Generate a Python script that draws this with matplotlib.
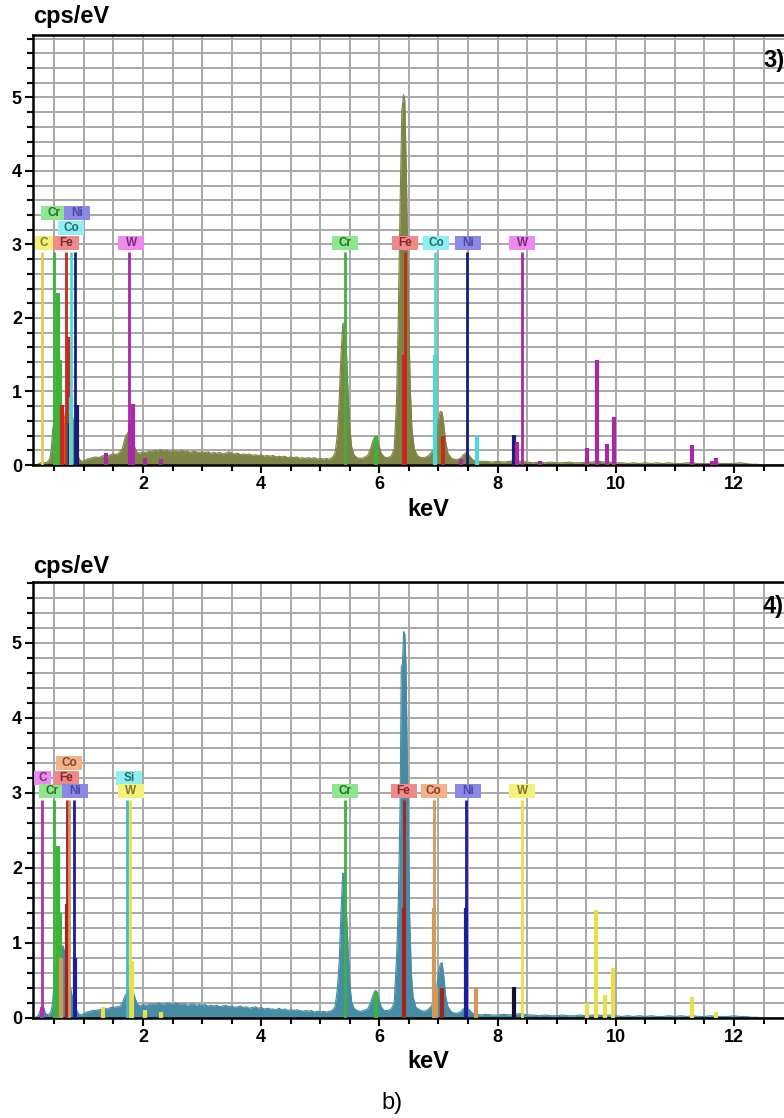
import numpy as np
import matplotlib.pyplot as plt
from matplotlib.patches import Rectangle
from matplotlib.ticker import MultipleLocator, FuncFormatter

plt.rcParams['font.family'] = ['Liberation Sans', 'DejaVu Sans']

# EDS spectrum of sample 3: (keV, cps/eV)
spec3 = [
    (0.14, 0.00), (0.22, 0.01), (0.27, 0.03), (0.30, 0.05), (0.33, 0.03), (0.38, 0.04),
    (0.42, 0.08), (0.45, 0.22), (0.47, 0.47), (0.50, 0.62), (0.53, 0.85), (0.56, 0.95),
    (0.59, 0.80), (0.62, 0.62), (0.65, 0.55), (0.68, 0.68), (0.71, 0.80), (0.74, 0.72),
    (0.77, 0.78), (0.80, 0.70), (0.83, 0.55), (0.86, 0.40), (0.89, 0.18), (0.92, 0.08),
    (0.96, 0.05), (1.00, 0.06), (1.05, 0.08), (1.10, 0.09), (1.15, 0.10), (1.20, 0.11),
    (1.25, 0.10), (1.30, 0.12), (1.35, 0.13), (1.40, 0.12), (1.45, 0.14), (1.50, 0.15),
    (1.55, 0.14), (1.60, 0.17), (1.65, 0.22), (1.70, 0.38), (1.74, 0.44), (1.78, 0.43),
    (1.82, 0.36), (1.86, 0.24), (1.90, 0.17), (1.95, 0.16), (2.00, 0.18), (2.05, 0.17),
    (2.10, 0.19), (2.15, 0.18), (2.20, 0.20), (2.25, 0.19), (2.30, 0.21), (2.35, 0.19),
    (2.40, 0.20), (2.45, 0.18), (2.50, 0.20), (2.55, 0.19), (2.60, 0.18), (2.65, 0.20),
    (2.70, 0.18), (2.75, 0.19), (2.80, 0.17), (2.85, 0.19), (2.90, 0.18), (2.95, 0.17),
    (3.00, 0.18), (3.05, 0.17), (3.10, 0.18), (3.15, 0.16), (3.20, 0.17), (3.25, 0.16),
    (3.30, 0.17), (3.35, 0.15), (3.40, 0.16), (3.45, 0.18), (3.50, 0.16), (3.55, 0.15),
    (3.60, 0.16), (3.65, 0.14), (3.70, 0.15), (3.75, 0.14), (3.80, 0.15), (3.85, 0.13),
    (3.90, 0.14), (3.95, 0.13), (4.00, 0.14), (4.05, 0.12), (4.10, 0.13), (4.15, 0.12),
    (4.20, 0.13), (4.25, 0.11), (4.30, 0.12), (4.35, 0.11), (4.40, 0.12), (4.45, 0.10),
    (4.50, 0.11), (4.55, 0.10), (4.60, 0.11), (4.65, 0.09), (4.70, 0.10), (4.75, 0.09),
    (4.80, 0.10), (4.85, 0.09), (4.90, 0.10), (4.95, 0.08), (5.00, 0.09), (5.05, 0.08),
    (5.10, 0.09), (5.15, 0.08), (5.20, 0.10), (5.25, 0.16), (5.29, 0.42), (5.32, 0.90),
    (5.35, 1.50), (5.38, 1.92), (5.41, 1.94), (5.44, 1.58), (5.47, 0.98), (5.50, 0.50),
    (5.53, 0.25), (5.57, 0.14), (5.62, 0.10), (5.68, 0.09), (5.74, 0.10), (5.80, 0.13),
    (5.85, 0.22), (5.89, 0.33), (5.93, 0.39), (5.96, 0.37), (5.99, 0.28), (6.03, 0.16),
    (6.08, 0.11), (6.14, 0.10), (6.20, 0.12), (6.25, 0.22), (6.29, 0.88), (6.32, 2.04),
    (6.35, 3.54), (6.38, 4.83), (6.41, 5.04), (6.43, 4.95), (6.46, 3.79), (6.49, 2.27),
    (6.52, 1.10), (6.55, 0.50), (6.59, 0.22), (6.64, 0.13), (6.70, 0.10), (6.76, 0.10),
    (6.82, 0.12), (6.87, 0.16), (6.92, 0.22), (6.96, 0.38), (7.00, 0.62), (7.03, 0.73),
    (7.06, 0.72), (7.09, 0.55), (7.12, 0.32), (7.16, 0.16), (7.22, 0.09), (7.30, 0.07),
    (7.37, 0.09), (7.42, 0.14), (7.47, 0.17), (7.52, 0.13), (7.58, 0.07), (7.65, 0.05),
    (7.72, 0.05), (7.80, 0.05), (7.90, 0.04), (8.00, 0.05), (8.10, 0.04), (8.20, 0.05),
    (8.30, 0.06), (8.40, 0.05), (8.50, 0.04), (8.60, 0.03), (8.70, 0.04), (8.80, 0.03),
    (8.90, 0.04), (9.00, 0.03), (9.10, 0.03), (9.20, 0.04), (9.30, 0.03), (9.40, 0.03),
    (9.50, 0.04), (9.60, 0.04), (9.70, 0.05), (9.80, 0.04), (9.90, 0.04), (10.0, 0.03),
    (10.1, 0.03), (10.2, 0.02), (10.3, 0.03), (10.4, 0.02), (10.5, 0.03), (10.6, 0.02),
    (10.7, 0.03), (10.8, 0.02), (10.9, 0.03), (11.0, 0.02), (11.1, 0.02), (11.2, 0.03),
    (11.3, 0.03), (11.4, 0.02), (11.5, 0.02), (11.6, 0.02), (11.7, 0.03), (11.8, 0.02),
    (11.9, 0.02), (12.0, 0.02), (12.1, 0.03), (12.2, 0.02), (12.3, 0.01), (12.4, 0.01),
    (12.5, 0.00), (12.85, 0.00),
]

# EDS spectrum of sample 4
spec4 = [
    (0.14, 0.00), (0.22, 0.02), (0.26, 0.10), (0.29, 0.15), (0.32, 0.14), (0.35, 0.06),
    (0.40, 0.04), (0.44, 0.08), (0.47, 0.20), (0.50, 0.55), (0.53, 0.72), (0.56, 0.85),
    (0.59, 0.90), (0.62, 0.94), (0.65, 0.96), (0.68, 0.85), (0.71, 0.70), (0.74, 0.55),
    (0.77, 0.42), (0.80, 0.30), (0.83, 0.22), (0.86, 0.14), (0.89, 0.08), (0.92, 0.05),
    (0.96, 0.04), (1.00, 0.06), (1.05, 0.08), (1.10, 0.09), (1.15, 0.10), (1.20, 0.10),
    (1.25, 0.11), (1.30, 0.12), (1.35, 0.13), (1.40, 0.12), (1.45, 0.14), (1.50, 0.14),
    (1.55, 0.15), (1.60, 0.15), (1.65, 0.20), (1.70, 0.30), (1.74, 0.35), (1.78, 0.40),
    (1.82, 0.38), (1.86, 0.28), (1.90, 0.19), (1.95, 0.16), (2.00, 0.18), (2.05, 0.17),
    (2.10, 0.18), (2.15, 0.19), (2.20, 0.18), (2.25, 0.20), (2.30, 0.19), (2.35, 0.18),
    (2.40, 0.20), (2.45, 0.19), (2.50, 0.18), (2.55, 0.20), (2.60, 0.19), (2.65, 0.18),
    (2.70, 0.19), (2.75, 0.17), (2.80, 0.18), (2.85, 0.19), (2.90, 0.17), (2.95, 0.18),
    (3.00, 0.17), (3.05, 0.18), (3.10, 0.16), (3.15, 0.17), (3.20, 0.16), (3.25, 0.17),
    (3.30, 0.15), (3.35, 0.16), (3.40, 0.17), (3.45, 0.15), (3.50, 0.16), (3.55, 0.14),
    (3.60, 0.15), (3.65, 0.16), (3.70, 0.14), (3.75, 0.15), (3.80, 0.13), (3.85, 0.14),
    (3.90, 0.15), (3.95, 0.13), (4.00, 0.14), (4.05, 0.12), (4.10, 0.13), (4.15, 0.12),
    (4.20, 0.12), (4.25, 0.11), (4.30, 0.13), (4.35, 0.11), (4.40, 0.12), (4.45, 0.10),
    (4.50, 0.11), (4.55, 0.10), (4.60, 0.11), (4.65, 0.10), (4.70, 0.09), (4.75, 0.10),
    (4.80, 0.09), (4.85, 0.10), (4.90, 0.08), (4.95, 0.09), (5.00, 0.08), (5.05, 0.09),
    (5.10, 0.08), (5.15, 0.09), (5.20, 0.10), (5.25, 0.15), (5.29, 0.40), (5.32, 0.75),
    (5.35, 1.42), (5.38, 1.93), (5.41, 1.92), (5.44, 1.48), (5.47, 0.92), (5.50, 0.45),
    (5.53, 0.22), (5.57, 0.13), (5.62, 0.10), (5.68, 0.09), (5.74, 0.10), (5.80, 0.12),
    (5.85, 0.20), (5.89, 0.30), (5.93, 0.37), (5.96, 0.35), (5.99, 0.26), (6.03, 0.15),
    (6.08, 0.10), (6.14, 0.10), (6.20, 0.12), (6.25, 0.20), (6.29, 0.80), (6.32, 1.55),
    (6.35, 2.80), (6.37, 4.67), (6.39, 4.72), (6.41, 5.15), (6.43, 5.12), (6.45, 4.70),
    (6.48, 3.00), (6.51, 1.40), (6.54, 0.60), (6.57, 0.28), (6.62, 0.14), (6.70, 0.10),
    (6.76, 0.09), (6.82, 0.11), (6.87, 0.15), (6.92, 0.21), (6.96, 0.36), (7.00, 0.60),
    (7.03, 0.72), (7.06, 0.74), (7.09, 0.56), (7.12, 0.30), (7.16, 0.15), (7.22, 0.08),
    (7.30, 0.06), (7.37, 0.08), (7.42, 0.12), (7.47, 0.14), (7.52, 0.11), (7.58, 0.06),
    (7.65, 0.05), (7.72, 0.04), (7.80, 0.05), (7.90, 0.04), (8.00, 0.04), (8.10, 0.05),
    (8.20, 0.04), (8.30, 0.05), (8.40, 0.06), (8.50, 0.04), (8.60, 0.04), (8.70, 0.03),
    (8.80, 0.04), (8.90, 0.03), (9.00, 0.03), (9.10, 0.04), (9.20, 0.03), (9.30, 0.03),
    (9.40, 0.04), (9.50, 0.03), (9.60, 0.04), (9.70, 0.04), (9.80, 0.03), (9.90, 0.04),
    (10.0, 0.03), (10.1, 0.02), (10.2, 0.03), (10.3, 0.02), (10.4, 0.03), (10.5, 0.02),
    (10.6, 0.03), (10.7, 0.02), (10.8, 0.02), (10.9, 0.03), (11.0, 0.02), (11.1, 0.03),
    (11.2, 0.02), (11.3, 0.03), (11.4, 0.02), (11.5, 0.02), (11.6, 0.03), (11.7, 0.02),
    (11.8, 0.02), (11.9, 0.02), (12.0, 0.03), (12.1, 0.02), (12.2, 0.02), (12.3, 0.01),
    (12.4, 0.01), (12.5, 0.00), (12.85, 0.00),
]

# secondary element lines: (element, keV, cps/eV)
lines3 = [
    ('Cr', 0.56, 2.34), ('Cr', 0.595, 1.43), ('Fe', 0.63, 0.82), ('Fe', 0.73, 1.74),
    ('Ni', 0.73, 0.57), ('Co', 0.78, 0.93), ('Ni', 0.88, 0.82),
    ('W', 1.38, 0.17), ('W', 1.78, 0.57), ('W', 1.83, 0.83), ('W', 2.04, 0.10), ('W', 2.30, 0.08),
    ('Cr', 5.95, 0.40), ('Fe', 6.42, 1.50), ('Co', 6.94, 1.50), ('Fe', 7.08, 0.40),
    ('W', 7.38, 0.08), ('Co', 7.65, 0.40), ('Ni', 8.28, 0.41), ('W', 8.33, 0.31),
    ('W', 8.72, 0.05), ('W', 9.51, 0.23), ('W', 9.69, 1.43), ('W', 9.85, 0.29),
    ('W', 9.97, 0.65), ('W', 11.29, 0.27), ('W', 11.62, 0.05), ('W', 11.70, 0.10),
]
lines4 = [
    ('C', 0.29, 0.15), ('Cr', 0.556, 2.29), ('Cr', 0.595, 1.40), ('Co', 0.62, 0.80),
    ('Fe', 0.72, 1.52), ('Fe', 0.73, 0.55), ('Ni', 0.85, 0.80),
    ('W', 1.33, 0.15), ('W', 1.81, 0.76), ('W', 2.03, 0.10), ('W', 2.30, 0.08),
    ('Cr', 5.95, 0.35), ('Fe', 6.41, 1.47), ('Co', 6.92, 1.47), ('Co', 6.95, 0.42),
    ('Fe', 7.06, 0.40), ('Ni', 7.47, 1.47), ('Co', 7.64, 0.41), ('Nb', 8.28, 0.41),
    ('W', 9.51, 0.20), ('W', 9.66, 1.44), ('W', 9.82, 0.30), ('W', 9.95, 0.66),
    ('W', 11.29, 0.28), ('W', 11.70, 0.08),
]

# labelled lines: (element, line keV, box keV, box level)
labels3 = [
    ('C', 0.286, 0.32, 3.02), ('Cr', 0.494, 0.50, 3.43), ('Fe', 0.697, 0.70, 3.02),
    ('Co', 0.776, 0.78, 3.22), ('Ni', 0.85, 0.88, 3.43), ('W', 1.765, 1.80, 3.02),
    ('Cr', 5.42, 5.41, 3.02), ('Fe', 6.43, 6.43, 3.02), ('Co', 6.94, 6.96, 3.02),
    ('Ni', 7.48, 7.50, 3.02), ('W', 8.42, 8.42, 3.02),
]
labels4 = [
    ('C', 0.296, 0.30, 3.20), ('Cr', 0.494, 0.46, 3.02), ('Fe', 0.708, 0.70, 3.20),
    ('Co', 0.748, 0.75, 3.40), ('Ni', 0.833, 0.85, 3.02), ('Si', 1.73, 1.76, 3.20),
    ('W', 1.78, 1.79, 3.02), ('Cr', 5.42, 5.41, 3.02), ('Fe', 6.41, 6.41, 3.02),
    ('Co', 6.92, 6.92, 3.02), ('Ni', 7.47, 7.50, 3.02), ('W', 8.41, 8.42, 3.02),
]

# (line colour, box colour, box text colour)
style3 = {
    'C': ('#d8d050', '#f4f07a', '#7a7a30'),
    'Cr': ('#3cb43c', '#8ee68e', '#2f6a2f'),
    'Fe': ('#c8281e', '#f08a8a', '#7a2a2a'),
    'Co': ('#50d8d8', '#8ef0f0', '#2a6a6a'),
    'Ni': ('#1c1c78', '#8a8ae6', '#4a4a9a'),
    'W': ('#a828a8', '#ee8aee', '#7a2a7a'),
}
style4 = {
    'C': ('#b030b0', '#ee8aee', '#7a2a7a'),
    'Cr': ('#3cb43c', '#8ee68e', '#2f6a2f'),
    'Fe': ('#a82020', '#f08a8a', '#7a2a2a'),
    'Co': ('#d29a5a', '#f4b088', '#7a4a2a'),
    'Ni': ('#1c1ca0', '#8a8ae6', '#4a4a9a'),
    'Si': ('#48b8c8', '#90eef0', '#2a6a6a'),
    'W': ('#e8e048', '#f4f07a', '#7a7a30'),
    'Nb': ('#101030', '#101030', '#101030'),
}

W_PX, H_PX = 784, 1118
fig = plt.figure(figsize=(W_PX / 100, H_PX / 100), dpi=100)


def draw_panel(ax, spec, fill, lines, labels, style, ymax):
    e, c = np.array(spec).T
    ax.fill_between(e, 0, c, color=fill, lw=0, zorder=2)
    ax.plot(e, c, color=fill, lw=0.8, zorder=2)
    for el, x, h in lines:
        ax.vlines(x, 0, h, color=style[el][0], lw=3, zorder=3)
    for el, x, bx, lev in labels:
        lc, bc, tc = style[el]
        ax.vlines(x, 0, 2.9, color=lc, lw=2, zorder=4)
        w = 0.30 if len(el) == 1 and el != 'W' else 0.44
        ax.add_patch(Rectangle((bx - w / 2, lev - 0.095), w, 0.19, fc=bc, ec='none',
                               zorder=5))
        ax.text(bx, lev, el, ha='center', va='center', fontsize=8.5, fontweight='bold',
                color=tc, zorder=6)

    ax.set_xlim(0.139, 12.846)
    ax.set_ylim(0, ymax)
    ax.xaxis.set_major_locator(MultipleLocator(2))
    ax.xaxis.set_minor_locator(MultipleLocator(0.5))
    ax.yaxis.set_major_locator(MultipleLocator(1))
    ax.yaxis.set_minor_locator(MultipleLocator(0.2))
    ax.xaxis.set_major_formatter(FuncFormatter(lambda v, p: f'{v:g}'))
    ax.grid(which='both', color='#a8a8a8', lw=1.4)
    ax.set_axisbelow(True)
    ax.tick_params(which='major', direction='out', length=6, width=1.5, pad=2,
                   labelsize=13)
    ax.tick_params(which='minor', direction='out', length=4, width=1.5)
    for lab in ax.get_xticklabels() + ax.get_yticklabels():
        lab.set_fontweight('bold')
    ax.spines['right'].set_visible(False)
    for s in ('top', 'left', 'bottom'):
        ax.spines[s].set_linewidth(1.8)


def place(top_px, bottom_px):
    return [33 / W_PX, 1 - bottom_px / H_PX, (W_PX - 33) / W_PX, (bottom_px - top_px) / H_PX]


ax3 = fig.add_axes(place(35, 465))
draw_panel(ax3, spec3, '#7e8446', lines3, labels3, style3, 5.85)
ax4 = fig.add_axes(place(582, 1018))
draw_panel(ax4, spec4, '#468ca5', lines4, labels4, style4, 5.81)

for y_cps, y_kev, y_tag, tag in ((16, 509, 60, '3)'), (567, 1062, 607, '4)')):
    fig.text(33 / W_PX, 1 - y_cps / H_PX, 'cps/eV', fontsize=17, fontweight='bold',
             ha='left', va='center')
    fig.text(428 / W_PX, 1 - y_kev / H_PX, 'keV', fontsize=17, fontweight='bold',
             ha='center', va='center')
    fig.text(763 / W_PX, 1 - y_tag / H_PX, tag, fontsize=17, fontweight='bold',
             ha='left', va='center')

fig.text(392 / W_PX, 1 - 1103 / H_PX, 'b)', fontsize=17, ha='center', va='center')

fig.savefig('out.png', dpi=100)
plt.close(fig)
